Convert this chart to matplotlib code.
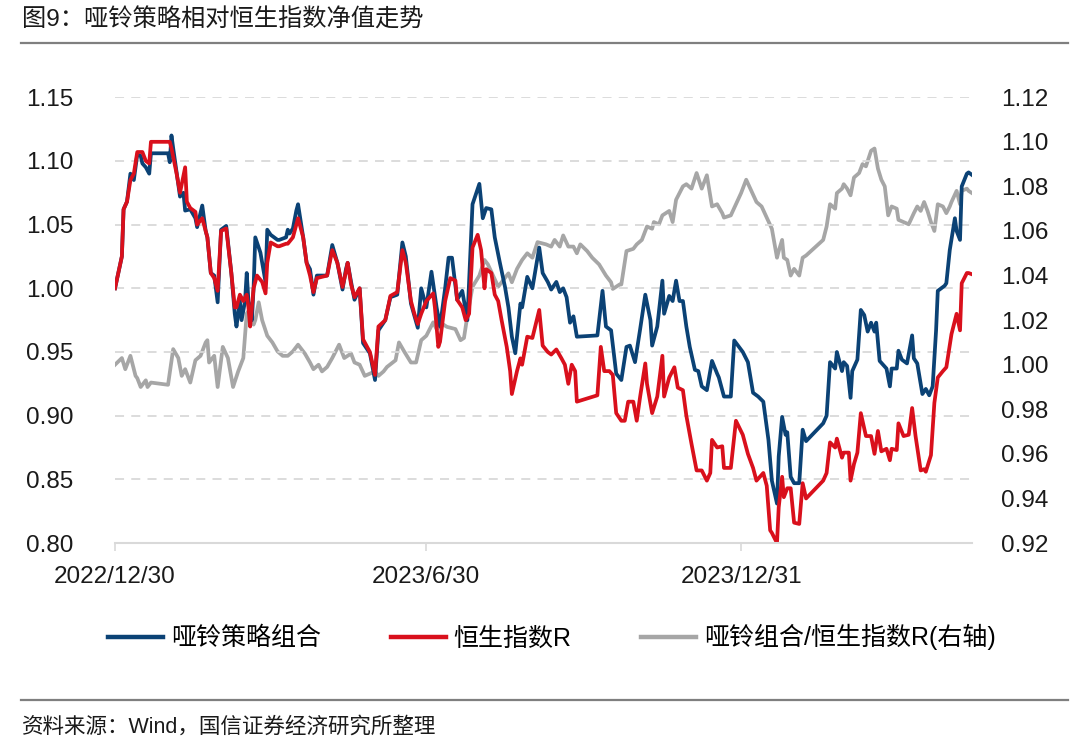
import matplotlib
matplotlib.use("Agg")
import matplotlib.pyplot as plt
from matplotlib.lines import Line2D
import numpy as np

plt.rcParams['font.family'] = ['Liberation Sans', 'Noto Sans CJK SC']

start = np.datetime64('2022-12-30')

# 哑铃策略组合 (left axis) - calendar days from 2022/12/30, net value
blue_days = [0, 4, 5, 7, 9, 11, 13, 15, 16, 18, 20, 21, 31, 32, 33, 34, 38, 40, 41, 44,
             47, 48, 51, 53, 54, 56, 58, 60, 62, 65, 68, 70, 71, 73, 74, 76, 77, 78, 79, 80,
             81, 82, 85, 88, 89, 91, 95, 96, 100, 101, 102, 104, 106, 107, 110, 112, 114, 116, 118, 124,
             127, 130, 133, 135, 136, 138, 140, 143, 145, 149, 152, 154, 158, 161, 165, 168, 170, 173, 177, 179,
             182, 185, 188, 190, 193, 195, 197, 200, 203, 206, 209, 213, 215, 217, 220, 222, 225, 228, 230, 232,
             234, 237, 238, 241, 244, 248, 250, 253, 255, 258, 260, 262, 264, 266, 268, 270, 282, 285, 287, 290,
             293, 296, 299, 301, 304, 307, 310, 313, 314, 317, 320, 321, 324, 326, 328, 330, 332, 334, 336, 339,
             341, 343, 346, 349, 352, 353, 356, 360, 362, 367, 370, 373, 376, 379, 382, 384, 387, 388, 390, 392,
             393, 395, 397, 400, 402, 404, 414, 416, 418, 421, 422, 425, 426, 428, 430, 431, 434, 436, 438, 440,
             442, 444, 445, 447, 451, 453, 454, 457, 458, 460, 463, 466, 467, 469, 472, 474, 476, 478, 480, 481,
             485, 486, 488, 491, 492, 494, 495, 498, 499, 501]
blue_vals = [1.000, 1.025, 1.062, 1.068, 1.090, 1.085, 1.105, 1.104, 1.098, 1.095, 1.090, 1.106, 1.106, 1.099, 1.120, 1.110, 1.072, 1.075, 1.061, 1.062,
             1.055, 1.048, 1.065, 1.045, 1.040, 1.012, 1.010, 0.989, 1.046, 1.049, 1.012, 0.980, 0.970, 0.990, 0.975, 0.990, 1.012, 0.990, 0.985, 0.975,
             1.000, 1.040, 1.028, 1.005, 1.046, 1.042, 1.038, 1.038, 1.040, 1.046, 1.043, 1.047, 1.061, 1.066, 1.040, 1.020, 1.015, 0.995, 1.010, 1.010,
             1.034, 1.020, 0.999, 1.015, 1.020, 1.005, 0.991, 1.000, 0.957, 0.949, 0.928, 0.967, 0.975, 0.993, 0.995, 1.036, 1.025, 0.988, 0.969, 1.000,
             0.985, 1.013, 0.985, 0.970, 1.000, 1.024, 1.024, 0.991, 0.998, 0.975, 1.066, 1.082, 1.055, 1.063, 1.062, 1.040, 1.020, 1.001, 0.985, 0.962,
             0.949, 0.988, 0.985, 1.009, 1.000, 1.032, 1.012, 1.005, 0.999, 1.005, 0.997, 1.000, 0.993, 0.973, 0.978, 0.962, 0.963, 0.998, 0.970, 0.967,
             0.933, 0.928, 0.954, 0.955, 0.942, 0.968, 0.995, 0.975, 0.955, 0.970, 1.006, 0.980, 0.994, 0.990, 1.006, 0.990, 0.990, 0.970, 0.954, 0.936,
             0.935, 0.923, 0.920, 0.943, 0.933, 0.930, 0.915, 0.915, 0.959, 0.950, 0.942, 0.918, 0.915, 0.911, 0.881, 0.849, 0.831, 0.868, 0.899, 0.885,
             0.887, 0.852, 0.847, 0.847, 0.889, 0.880, 0.894, 0.900, 0.942, 0.937, 0.950, 0.935, 0.942, 0.939, 0.914, 0.935, 0.944, 0.983, 0.979, 0.966,
             0.973, 0.966, 0.973, 0.943, 0.937, 0.923, 0.937, 0.937, 0.951, 0.944, 0.941, 0.963, 0.945, 0.941, 0.917, 0.921, 0.916, 0.923, 0.967, 0.998,
             1.002, 1.004, 1.030, 1.055, 1.045, 1.038, 1.080, 1.090, 1.091, 1.089]

# 恒生指数R (left axis)
red_days = [0, 4, 5, 7, 9, 11, 13, 16, 18, 20, 21, 32, 33, 36, 38, 41, 42, 44, 47, 48,
            51, 53, 54, 56, 58, 60, 62, 65, 68, 70, 71, 73, 75, 77, 78, 79, 81, 83, 86, 88,
            89, 91, 95, 96, 100, 101, 104, 106, 107, 110, 112, 114, 116, 118, 124, 127, 130, 133, 135, 136,
            138, 140, 143, 145, 149, 152, 154, 158, 161, 165, 168, 170, 173, 175, 177, 179, 182, 186, 187, 189,
            190, 193, 196, 199, 200, 203, 205, 207, 209, 212, 214, 216, 217, 220, 222, 224, 226, 229, 231, 232,
            235, 237, 238, 241, 244, 248, 250, 253, 255, 258, 261, 263, 265, 267, 269, 270, 282, 284, 286, 289,
            291, 293, 296, 298, 300, 303, 305, 307, 310, 311, 314, 317, 320, 321, 324, 327, 329, 332, 334, 337,
            340, 343, 346, 348, 349, 352, 355, 356, 360, 363, 367, 370, 373, 375, 379, 381, 383, 384, 387, 388,
            390, 391, 393, 395, 397, 400, 402, 404, 414, 416, 418, 421, 422, 425, 426, 429, 430, 432, 434, 436,
            439, 442, 444, 446, 448, 451, 453, 454, 457, 458, 461, 464, 466, 468, 471, 473, 474, 477, 479, 481,
            484, 486, 489, 492, 494, 495, 498, 499, 501]
red_vals = [1.000, 1.025, 1.062, 1.068, 1.085, 1.090, 1.107, 1.107, 1.100, 1.098, 1.115, 1.115, 1.110, 1.090, 1.075, 1.095, 1.068, 1.063, 1.060, 1.050,
            1.055, 1.045, 1.040, 1.012, 1.008, 0.998, 1.045, 1.047, 1.012, 0.985, 0.985, 0.995, 0.990, 0.995, 0.985, 0.970, 1.000, 1.010, 1.005, 0.996,
            1.020, 1.036, 1.033, 1.033, 1.035, 1.035, 1.040, 1.050, 1.055, 1.040, 1.020, 1.010, 0.997, 1.008, 1.010, 1.030, 1.020, 1.001, 1.013, 1.020,
            1.003, 0.993, 1.000, 0.960, 0.950, 0.932, 0.970, 0.975, 0.994, 0.997, 1.030, 1.020, 0.990, 0.980, 0.972, 0.980, 0.990, 0.996, 0.985, 0.954,
            0.958, 0.990, 1.008, 1.006, 0.991, 0.985, 0.975, 0.980, 1.032, 1.042, 1.030, 1.000, 1.015, 1.012, 0.995, 0.990, 0.975, 0.954, 0.935, 0.917,
            0.935, 0.945, 0.940, 0.962, 0.961, 0.983, 0.955, 0.950, 0.948, 0.952, 0.945, 0.940, 0.925, 0.940, 0.935, 0.911, 0.916, 0.954, 0.935, 0.935,
            0.932, 0.902, 0.896, 0.896, 0.911, 0.911, 0.896, 0.915, 0.941, 0.925, 0.902, 0.915, 0.947, 0.915, 0.930, 0.938, 0.922, 0.920, 0.900, 0.878,
            0.857, 0.857, 0.849, 0.855, 0.881, 0.875, 0.876, 0.859, 0.859, 0.896, 0.885, 0.870, 0.859, 0.849, 0.855, 0.845, 0.810, 0.808, 0.800, 0.828,
            0.852, 0.836, 0.843, 0.843, 0.816, 0.815, 0.847, 0.835, 0.849, 0.855, 0.879, 0.875, 0.882, 0.867, 0.871, 0.871, 0.849, 0.862, 0.871, 0.902,
            0.884, 0.884, 0.870, 0.888, 0.872, 0.874, 0.865, 0.874, 0.873, 0.894, 0.884, 0.885, 0.906, 0.884, 0.857, 0.858, 0.856, 0.869, 0.910, 0.930,
            0.935, 0.938, 0.964, 0.980, 0.967, 1.004, 1.012, 1.012, 1.011]

# 哑铃组合/恒生指数R (right axis)
grey_days = [0, 4, 6, 9, 12, 13, 15, 18, 19, 21, 31, 34, 37, 39, 41, 44, 47, 50, 53, 54,
             55, 58, 60, 63, 66, 69, 72, 75, 77, 79, 81, 82, 84, 86, 89, 92, 95, 98, 101, 104,
             107, 111, 114, 116, 119, 121, 124, 127, 131, 134, 138, 140, 143, 146, 149, 152, 154, 157, 159, 164,
             166, 169, 173, 176, 179, 182, 186, 188, 192, 194, 199, 202, 204, 206, 209, 213, 216, 218, 221, 224,
             227, 230, 232, 235, 238, 241, 244, 247, 252, 255, 257, 260, 262, 265, 268, 270, 272, 276, 279, 283,
             287, 290, 291, 295, 296, 299, 303, 305, 308, 311, 314, 315, 318, 320, 322, 324, 326, 328, 332, 334,
             337, 340, 343, 346, 349, 352, 355, 356, 360, 363, 366, 369, 372, 375, 378, 381, 384, 387, 388, 390,
             391, 393, 395, 397, 400, 402, 404, 414, 416, 418, 421, 422, 425, 426, 428, 430, 432, 435, 437, 439,
             442, 444, 446, 448, 450, 452, 454, 457, 458, 461, 464, 467, 469, 471, 473, 475, 477, 479, 481, 484,
             486, 488, 489, 492, 494, 495, 498, 499, 501]
grey_vals = [1.000, 1.003, 0.998, 1.004, 0.995, 0.994, 0.990, 0.993, 0.990, 0.992, 0.991, 1.007, 1.003, 0.995, 0.998, 0.992, 1.002, 1.004, 1.010, 1.011,
             1.001, 1.004, 0.990, 1.008, 1.003, 0.990, 0.997, 1.003, 1.023, 1.025, 1.018, 1.020, 1.028, 1.020, 1.013, 1.010, 1.006, 1.004, 1.004, 1.006,
             1.009, 1.005, 1.001, 0.998, 1.000, 0.997, 0.999, 1.003, 1.009, 1.003, 1.005, 1.001, 1.000, 0.995, 0.996, 0.997, 0.995, 0.997, 0.999, 1.002,
             1.010, 1.006, 1.001, 1.001, 1.011, 1.013, 1.019, 1.016, 1.018, 1.017, 1.016, 1.011, 1.012, 1.022, 1.035, 1.040, 1.047, 1.045, 1.040, 1.035,
             1.038, 1.041, 1.037, 1.043, 1.047, 1.050, 1.048, 1.055, 1.054, 1.053, 1.056, 1.053, 1.058, 1.053, 1.053, 1.050, 1.054, 1.051, 1.048, 1.045,
             1.040, 1.037, 1.034, 1.036, 1.036, 1.051, 1.052, 1.054, 1.056, 1.062, 1.061, 1.064, 1.063, 1.067, 1.068, 1.069, 1.064, 1.074, 1.080, 1.081,
             1.079, 1.086, 1.079, 1.085, 1.071, 1.072, 1.068, 1.066, 1.067, 1.072, 1.077, 1.083, 1.078, 1.073, 1.071, 1.066, 1.061, 1.048, 1.051, 1.056,
             1.048, 1.047, 1.040, 1.043, 1.040, 1.048, 1.049, 1.056, 1.062, 1.072, 1.070, 1.077, 1.079, 1.081, 1.079, 1.076, 1.084, 1.086, 1.090, 1.089,
             1.096, 1.097, 1.088, 1.083, 1.080, 1.067, 1.071, 1.070, 1.065, 1.064, 1.063, 1.068, 1.071, 1.069, 1.073, 1.069, 1.064, 1.060, 1.072, 1.071,
             1.068, 1.071, 1.073, 1.078, 1.072, 1.078, 1.079, 1.078, 1.077]

left_ticks = [0.80, 0.85, 0.90, 0.95, 1.00, 1.05, 1.10, 1.15]
right_ticks = [0.92, 0.94, 0.96, 0.98, 1.00, 1.02, 1.04, 1.06, 1.08, 1.10, 1.12]
x_ticks = ['2022-12-30', '2023-06-30', '2023-12-31']
x_tick_labels = ['2022/12/30', '2023/6/30', '2023/12/31']

blue_dates = start + np.array(blue_days).astype('timedelta64[D]')
red_dates = start + np.array(red_days).astype('timedelta64[D]')
grey_dates = start + np.array(grey_days).astype('timedelta64[D]')

fig = plt.figure(figsize=(10.8, 7.48), dpi=100)
ax = fig.add_axes([0.1065, 0.274, 0.7935, 0.596])
ax2 = ax.twinx()

c_blue = '#0b4275'
c_red = '#d9101c'
c_grey = '#a6a6a6'

ax2.plot(grey_dates, grey_vals, color=c_grey, lw=2.7, solid_joinstyle='round')
ax.plot(blue_dates, blue_vals, color=c_blue, lw=2.7, solid_joinstyle='round')
ax.plot(red_dates, red_vals, color=c_red, lw=2.7, solid_joinstyle='round')

ax.set_zorder(ax2.get_zorder() + 1)
ax.patch.set_visible(False)

ax.set_xlim(start, start + np.timedelta64(501, 'D'))
ax.set_ylim(0.80, 1.15)
ax2.set_ylim(0.92, 1.12)
ax.set_yticks(left_ticks)
ax.set_yticklabels([f'{v:.2f}' for v in left_ticks])
ax2.set_yticks(right_ticks)
ax2.set_yticklabels([f'{v:.2f}' for v in right_ticks])
ax.set_xticks([np.datetime64(d) for d in x_ticks])
ax.set_xticklabels(x_tick_labels)

for a in (ax, ax2):
    for s in ('top', 'left', 'right'):
        a.spines[s].set_visible(False)
ax.spines['bottom'].set_color('#d9d9d9')
ax.spines['bottom'].set_linewidth(1.5)
ax2.spines['bottom'].set_visible(False)

ax.grid(axis='y', color='#d9d9d9', linestyle=(0, (5, 4)), linewidth=1.3)
ax.set_axisbelow(True)
ax.tick_params(axis='y', length=0, labelsize=17.5, pad=30, colors='#1a1a1a')
ax2.tick_params(axis='y', length=0, labelsize=17.5, pad=21, colors='#1a1a1a')
ax.tick_params(axis='x', length=6, width=1.2, labelsize=17.5, pad=10.5, colors='#1a1a1a')
ax.tick_params(axis='x', color='#d9d9d9')

# title and rules
fig.text(0.020, 0.973, '图9：哑铃策略相对恒生指数净值走势', fontsize=17.5, va='center', ha='left', color='#1a1a1a')
fig.add_artist(Line2D([0.019, 0.989], [0.942, 0.942], color='#7f7f7f', lw=1.6))
fig.add_artist(Line2D([0.019, 0.989], [0.064, 0.064], color='#7f7f7f', lw=1.6))
fig.text(0.020, 0.028, '资料来源：Wind，国信证券经济研究所整理', fontsize=15.5, va='center', ha='left', color='#1a1a1a')

handles = [Line2D([], [], color=c_blue, lw=3.2),
           Line2D([], [], color=c_red, lw=3.2),
           Line2D([], [], color=c_grey, lw=3.2)]
labels = ['哑铃策略组合', '恒生指数R', '哑铃组合/恒生指数R(右轴)']
fig.legend(handles, labels, loc='center', bbox_to_anchor=(0.511, 0.148), ncol=3, frameon=False,
           fontsize=18, handlelength=2.2, handletextpad=0.3, columnspacing=2.8)

fig.savefig('out.png', dpi=100)
